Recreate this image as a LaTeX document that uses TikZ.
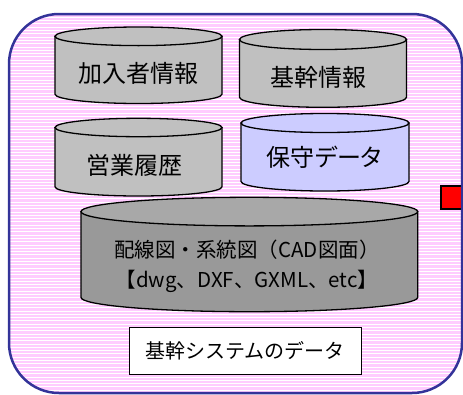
\documentclass[tikz,border=0pt]{standalone}
\usepackage{fontspec}
\setmainfont{Liberation Sans}
\newfontfamily\jp{Noto Sans CJK JP}
\newfontfamily\jpp[RawFeature=+palt]{Noto Sans CJK JP}
\definecolor{pinkbg}{HTML}{FFCCFF}
\definecolor{bordblue}{HTML}{333399}
\definecolor{lgray}{HTML}{C0C0C0}
\definecolor{dgray}{HTML}{999999}
\definecolor{dgraytop}{HTML}{A8A8A8}
\definecolor{lav}{HTML}{CCCCFF}
\newcommand\dbcyl[7]{%
  \pgfmathsetmacro\cxa{#1}%
  \pgfmathsetmacro\cxb{#2}%
  \pgfmathsetmacro\cyt{-(#3)-(#5)}%
  \pgfmathsetmacro\cyb{-(#4)+(#5)}%
  \pgfmathsetmacro\crx{((#2)-(#1))/2}%
  \pgfmathsetmacro\cmx{((#1)+(#2))/2}%
  \filldraw[cylline, fill=#6] (\cxa,\cyt) -- (\cxa,\cyb) arc[start angle=180,end angle=360,x radius=\crx,y radius=#5] -- (\cxb,\cyt) -- cycle;
  \filldraw[cylline, fill=#7] (\cmx,\cyt) ellipse [x radius=\crx, y radius=#5];
}
\begin{document}
\begin{tikzpicture}[x=1pt,y=1pt,
  cylline/.style={draw=black,line width=1.3pt},
  lbl/.style={font=\jp\fontsize{24}{28}\selectfont, inner sep=0pt},
  lblp/.style={font=\jpp\fontsize{24}{28}\selectfont, inner sep=0pt},
  biglbl/.style={font=\jp\fontsize{20.5}{30}\selectfont, inner sep=0pt, align=center},
  tagbox/.style={draw=black, fill=white, line width=1.3pt, minimum width=232pt, minimum height=47pt, inner sep=0pt, font=\jp\fontsize{20}{24}\selectfont}]
\useasboundingbox (0,0) rectangle (463,-394);
\begin{scope}
  \clip[rounded corners=50pt] (9,-14) rectangle (462,-393);
  \fill[pinkbg] (0,0) rectangle (463,-394);
  \foreach \i in {0,...,120} \draw[white,line width=1pt] (0,-14-\i*3.3) -- (463,-14-\i*3.3);
\end{scope}
\draw[fill=red, line width=1.3pt] (441,-186) rectangle (470,-209);
\draw[bordblue, line width=2.5pt, rounded corners=50pt] (9,-14) rectangle (462,-393);
\dbcyl{55}{222}{27}{103.5}{9.3}{lgray}{lgray}
\dbcyl{239.5}{406.5}{29.5}{107.3}{10}{lgray}{lgray}
\dbcyl{55}{222}{118.3}{196}{9.2}{lgray}{lgray}
\dbcyl{241}{409}{113.5}{191}{9.5}{lav}{lav}
\dbcyl{81}{417.7}{197.3}{311.7}{14.3}{dgray}{dgraytop}
\node[lbl] (kanyu) at (138.5,-73) {加入者情報};
\node[lbl] (kikan) at (318,-77) {基幹情報};
\node[lbl] (eigyo) at (134,-165) {営業履歴};
\node[lblp] (hoshu) at (324.5,-157) {保守データ};
\node[biglbl] (cad) at (247,-266) {配線図・系統図（CAD図面）\\【dwg、DXF、GXML、etc】};
\node[tagbox] (tag) at (245.2,-350.7) {基幹システムのデータ};
\end{tikzpicture}
\end{document}
